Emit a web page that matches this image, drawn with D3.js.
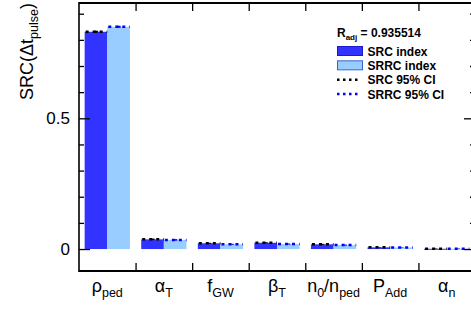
<!DOCTYPE html>
<html>
<head>
<meta charset="utf-8">
<script src="https://cdn.jsdelivr.net/npm/d3@7"></script>
<style>
  body { margin: 0; background: #fff; }
  svg { display: block; font-family: "Liberation Sans", Arial, sans-serif; }
</style>
</head>
<body>
<svg id="chart" width="471" height="310"></svg>
<script>
// parameter labels, split in [text, isSubscript] pieces
let labels = [
    [["ρ", 0], ["ped", 1]],
    [["α", 0], ["T", 1]],
    [["f", 0], ["GW", 1]],
    [["β", 0], ["T", 1]],
    [["n", 0], ["0", 1], ["/n", 0], ["ped", 1]],
    [["P", 0], ["Add", 1]],
    [["α", 0], ["n", 1]]
];
let categories = ["rho_ped", "alpha_T", "f_GW", "beta_T", "n0_nped", "P_Add", "alpha_n"];
let srcValues  = [0.831, 0.037, 0.022, 0.024, 0.018, 0.0065, 0.001];
let srrcValues = [0.850, 0.035, 0.018, 0.019, 0.015, 0.006, 0.001];
let srcCI  = [0.004, 0.003, 0.002, 0.002, 0.002, 0.001, 0.001];
let srrcCI = [0.004, 0.003, 0.002, 0.002, 0.002, 0.001, 0.001];
let yMajor = [0, 0.5];
let rAdj = "0.935514";

let svg = d3.select("#chart");
let pLeft = 79, pRight = 475, pTop = 3, pBottom = 271;

let x = d3.scaleBand().domain(categories).range([pLeft, pRight]);
let y = d3.scaleLinear().domain([-0.084, 0.941]).range([pBottom, pTop]);
let xi = d3.scaleLinear().domain([0, categories.length]).range([pLeft, pRight]);

let bw = x.bandwidth();
let srcColor = "#3333ff", srrcColor = "#99ccff";

// bars
let g = svg.append("g");
categories.forEach((c, i) => {
    let x0 = x(c);
    let ySrc = y(srcValues[i]), ySrrc = y(srrcValues[i]);
    g.append("rect")
        .attr("x", x0 + 0.1 * bw).attr("width", 0.4 * bw)
        .attr("y", Math.min(ySrc, y(0))).attr("height", Math.max(Math.abs(y(0) - ySrc), 1))
        .attr("fill", srcColor);
    g.append("rect")
        .attr("x", x0 + 0.5 * bw).attr("width", 0.4 * bw)
        .attr("y", Math.min(ySrrc, y(0))).attr("height", Math.max(Math.abs(y(0) - ySrrc), 1))
        .attr("fill", srrcColor);
});

// confidence intervals (dotted)
function ci(x0, v, e, col) {
    g.append("line")
        .attr("x1", x0 + 1).attr("x2", x0 + 0.4 * bw)
        .attr("y1", y(v)).attr("y2", y(v))
        .attr("stroke", col).attr("stroke-width", 2.5)
        .attr("stroke-dasharray", "3,4");
    g.append("line")
        .attr("x1", x0 + 0.2 * bw).attr("x2", x0 + 0.2 * bw)
        .attr("y1", y(v + e)).attr("y2", y(v - e))
        .attr("stroke", col).attr("stroke-width", 4);
}
categories.forEach((c, i) => {
    ci(x(c) + 0.1 * bw, srcValues[i], srcCI[i], "#000");
    ci(x(c) + 0.5 * bw, srrcValues[i], srrcCI[i], "#0000ff");
});

// frame + axes
let minorTicks = d3.range(-0.0, 0.95, 0.1).map(d => +d.toFixed(1)).filter(d => yMajor.indexOf(d) < 0);

let yMinor = d3.axisLeft(y).tickValues(minorTicks).tickSize(-5).tickFormat("");
let yMaj = d3.axisLeft(y).tickValues(yMajor).tickSize(-11).tickPadding(9).tickFormat(d => d === 0 ? "0" : d3.format(".1f")(d));
let yMinorR = d3.axisRight(y).tickValues(minorTicks).tickSize(-5).tickFormat("");
let yMajR = d3.axisRight(y).tickValues(yMajor).tickSize(-11).tickFormat("");

let xTop = d3.axisTop(xi).tickValues(d3.range(1, categories.length)).tickSize(-8).tickFormat("");
let xBot = d3.axisBottom(xi).tickValues(d3.range(1, categories.length)).tickSize(-8).tickFormat("");

function styleAxis(sel) {
    sel.select(".domain").remove();
    sel.selectAll(".tick line").attr("stroke", "#000").attr("stroke-width", 1.3);
    sel.selectAll("text").attr("font-size", 17).attr("fill", "#000")
        .attr("font-family", "Liberation Sans, Arial, sans-serif");
}
svg.append("g").attr("transform", `translate(${pLeft},0)`).call(yMinor).call(styleAxis);
svg.append("g").attr("transform", `translate(${pLeft},0)`).call(yMaj).call(styleAxis);
svg.append("g").attr("transform", `translate(${pRight},0)`).call(yMinorR).call(styleAxis);
svg.append("g").attr("transform", `translate(${pRight},0)`).call(yMajR).call(styleAxis);
svg.append("g").attr("transform", `translate(0,${pTop})`).call(xTop).call(styleAxis);
svg.append("g").attr("transform", `translate(0,${pBottom})`).call(xBot).call(styleAxis);

svg.append("line").attr("x1", pLeft).attr("x2", pLeft).attr("y1", pTop - 1).attr("y2", pBottom + 1)
    .attr("stroke", "#000").attr("stroke-width", 1.6);
svg.append("line").attr("x1", pLeft).attr("x2", pRight).attr("y1", pTop).attr("y2", pTop)
    .attr("stroke", "#000").attr("stroke-width", 2);
svg.append("line").attr("x1", pLeft).attr("x2", pRight).attr("y1", pBottom).attr("y2", pBottom)
    .attr("stroke", "#000").attr("stroke-width", 2);

// x labels
function richText(sel, parts, big, small) {
    let prev = 0;
    parts.forEach(p => {
        let dy = (p[1] ? 5 : 0) - prev;
        sel.append("tspan").attr("dy", dy).attr("font-size", p[1] ? small : big).text(p[0]);
        prev = p[1] ? 5 : 0;
    });
}
categories.forEach((c, i) => {
    let t = svg.append("text")
        .attr("x", x(c) + bw / 2).attr("y", 292)
        .attr("text-anchor", "middle").attr("fill", "#000");
    richText(t, labels[i], 18, 12.5);
});

// y title
let yt = svg.append("text")
    .attr("transform", "translate(33,3) rotate(-90)")
    .attr("text-anchor", "end").attr("fill", "#000");
richText(yt, [["SRC(Δt", 0], ["pulse", 1], [")", 0]], 18, 12.5);

// legend
let lg = svg.append("g").attr("font-weight", "bold").attr("fill", "#000");
let rt = lg.append("text").attr("x", 337).attr("y", 37);
rt.append("tspan").attr("font-size", 12).text("R");
rt.append("tspan").attr("font-size", 8).attr("dy", 3).text("adj");
rt.append("tspan").attr("font-size", 12).attr("dy", -3).text(" = " + rAdj);

let entries = [
    {name: "SRC index", type: "box", fill: srcColor, stroke: "#1a1acc"},
    {name: "SRRC index", type: "box", fill: srrcColor, stroke: "#3366cc"},
    {name: "SRC 95% CI", type: "line", stroke: "#000"},
    {name: "SRRC 95% CI", type: "line", stroke: "#0000ff"}
];
let ly = d3.scaleLinear().domain([0, 3]).range([51, 94]);
entries.forEach((e, i) => {
    let yy = ly(i);
    if (e.type === "box") {
        lg.append("rect").attr("x", 337.5).attr("y", yy - 4.5).attr("width", 25).attr("height", 9)
            .attr("fill", e.fill).attr("stroke", e.stroke).attr("stroke-width", 1);
    } else {
        lg.append("line").attr("x1", 337).attr("x2", 361).attr("y1", yy).attr("y2", yy)
            .attr("stroke", e.stroke).attr("stroke-width", 2.5).attr("stroke-dasharray", "2.5,3.5");
    }
    lg.append("text").attr("x", 367.5).attr("y", yy + 4.5).attr("font-size", 12).text(e.name);
});
</script>
</body>
</html>
